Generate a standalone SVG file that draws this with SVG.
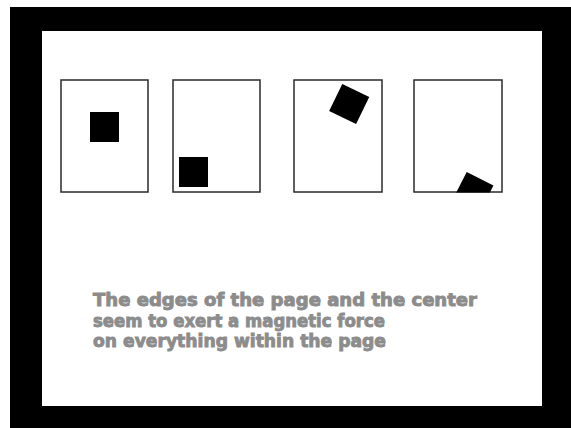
<svg xmlns="http://www.w3.org/2000/svg" width="571" height="428" viewBox="0 0 571 428">
<style>
.page{fill:#fff;stroke:#2a2a2a;stroke-width:1.5}
.sq{fill:#000}
.cap{font-family:"DejaVu Sans",sans-serif;font-weight:bold;font-size:17.5px;fill:#8c8c8c;stroke:#8c8c8c;stroke-width:0.9}
</style>
<defs>
<clipPath id="clip4"><rect x="414" y="80" width="88" height="112.5"/></clipPath>
</defs>
<rect x="0" y="0" width="571" height="428" fill="#fff"/>
<rect x="10" y="7" width="561" height="421" fill="#000"/>
<rect x="42" y="31" width="500" height="375" fill="#fff"/>
<g id="page1">
<rect class="page" x="61" y="80" width="87" height="112"/>
<rect class="sq" x="90" y="112" width="29" height="30"/>
</g>
<g id="page2">
<rect class="page" x="173" y="80" width="87" height="112"/>
<rect class="sq" x="179" y="157" width="29" height="30"/>
</g>
<g id="page3">
<rect class="page" x="294" y="80" width="88" height="112"/>
<rect class="sq" x="-15" y="-15" width="30" height="30" transform="translate(349.2 104) rotate(26)"/>
</g>
<g id="page4">
<rect class="page" x="414" y="80" width="88" height="112"/>
<g clip-path="url(#clip4)">
<rect class="sq" x="0" y="0" width="30" height="30" transform="translate(466.7 172) rotate(27)"/>
</g>
</g>
<g id="caption">
<text class="cap" x="93" y="306" textLength="384" lengthAdjust="spacingAndGlyphs">The edges of the page and the center</text>
<text class="cap" x="93" y="326.5" textLength="292" lengthAdjust="spacingAndGlyphs">seem to exert a magnetic force</text>
<text class="cap" x="93" y="347" textLength="293" lengthAdjust="spacingAndGlyphs">on everything within the page</text>
</g>
</svg>
